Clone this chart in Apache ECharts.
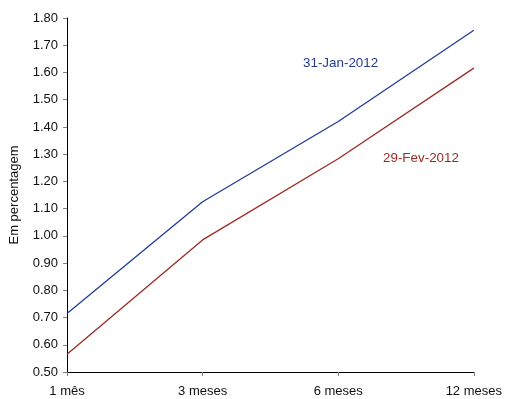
<!DOCTYPE html>
<html><head><meta charset="utf-8">
<script src="https://cdn.jsdelivr.net/npm/echarts@6/dist/echarts.min.js"></script>
<style>html,body{margin:0;padding:0;background:#fff}#c{width:505px;height:399px}</style>
</head><body><div id="c"></div>
<script>
const categories = ['1 mês', '3 meses', '6 meses', '12 meses'];
const jan2012 = [0.715, 1.125, 1.42, 1.755];
const fev2012 = [0.565, 0.985, 1.283, 1.616];
const seriesNames = ['31-Jan-2012', '29-Fev-2012'];
const yAxisName = 'Em percentagem';

const chart = echarts.init(document.getElementById('c'));
const font = 'Liberation Sans, Arial, sans-serif';
chart.setOption({
  animation: false,
  grid: { left: 63, right: 31, top: 18, bottom: 27 },
  xAxis: {
    type: 'category', data: categories, boundaryGap: false,
    axisLine: { lineStyle: { color: '#000', width: 1 } },
    axisTick: { show: true, length: 4, lineStyle: { color: '#808080' } },
    axisLabel: { color: '#111', fontFamily: font, fontSize: 13, margin: 13 }
  },
  yAxis: {
    type: 'value', min: 0.5, max: 1.8, interval: 0.1,
    name: yAxisName, nameLocation: 'middle', nameGap: 46, nameRotate: 90,
    nameTextStyle: { color: '#111', fontFamily: font, fontSize: 13 },
    axisLine: { show: true, lineStyle: { color: '#000', width: 1 } },
    axisTick: { show: true, length: 4, lineStyle: { color: '#808080' } },
    splitLine: { show: false },
    axisLabel: { color: '#111', fontFamily: font, fontSize: 13, margin: 9,
      formatter: v => v.toFixed(2) }
  },
  series: [
    { name: seriesNames[0], type: 'line', data: jan2012, symbol: 'none',
      lineStyle: { color: '#1f3c99', width: 1.3 } },
    { name: seriesNames[1], type: 'line', data: fev2012, symbol: 'none',
      lineStyle: { color: '#9c2a22', width: 1.3 } }
  ],
  graphic: [
    { type: 'text', left: 303, top: 57, style: { text: seriesNames[0], fill: '#1f3c99', font: '13.4px ' + font } },
    { type: 'text', left: 383, top: 152, style: { text: seriesNames[1], fill: '#9c2a22', font: '13.4px ' + font } }
  ]
});
</script></body></html>
